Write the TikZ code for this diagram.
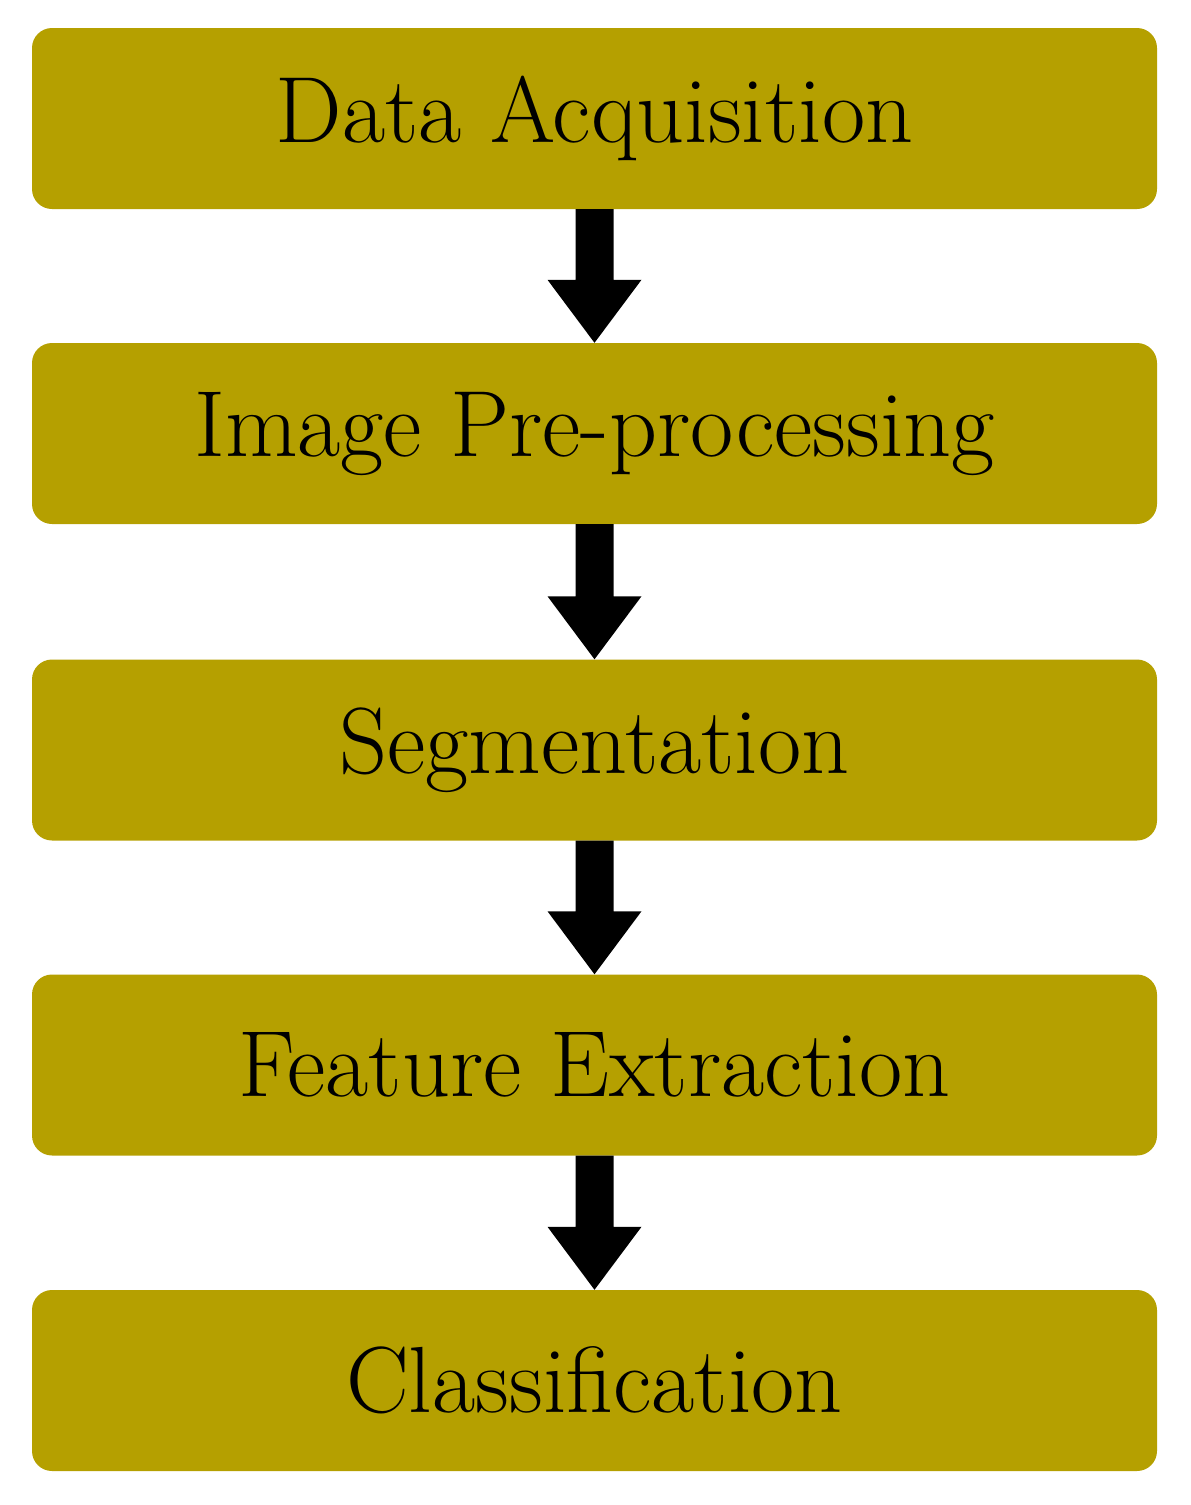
\documentclass[tikz,border=0pt]{standalone}
\usetikzlibrary{calc}
\definecolor{boxc}{RGB}{181,160,0}
\begin{document}
\begin{tikzpicture}[x=1pt,y=-1pt,
  box/.style={fill=boxc,rounded corners=20pt,minimum width=1125pt,minimum height=181pt,inner sep=0pt,font=\fontsize{94}{100}\selectfont},
  arr/.style={fill=black}]
\useasboundingbox (0,0) rectangle (1191,1505);
\node[box] (a) at (594.5,118.5) {Data Acquisition};
\node[box] (b) at (594.5,433.5) {Image Pre-processing};
\node[box] (c) at (594.5,750) {Segmentation};
\node[box] (d) at (594.5,1065) {Feature Extraction};
\node[box] (e) at (594.5,1380.5) {Classification};
\foreach \u/\v in {a/b,b/c,c/d,d/e}{
  \fill[arr] ($(\u.south)+(-19,0)$) -- ($(\u.south)+(19,0)$) -- ($(\v.north)+(19,-63)$) -- ($(\v.north)+(47,-63)$) -- (\v.north) -- ($(\v.north)+(-47,-63)$) -- ($(\v.north)+(-19,-63)$) -- cycle;
}
\end{tikzpicture}
\end{document}
